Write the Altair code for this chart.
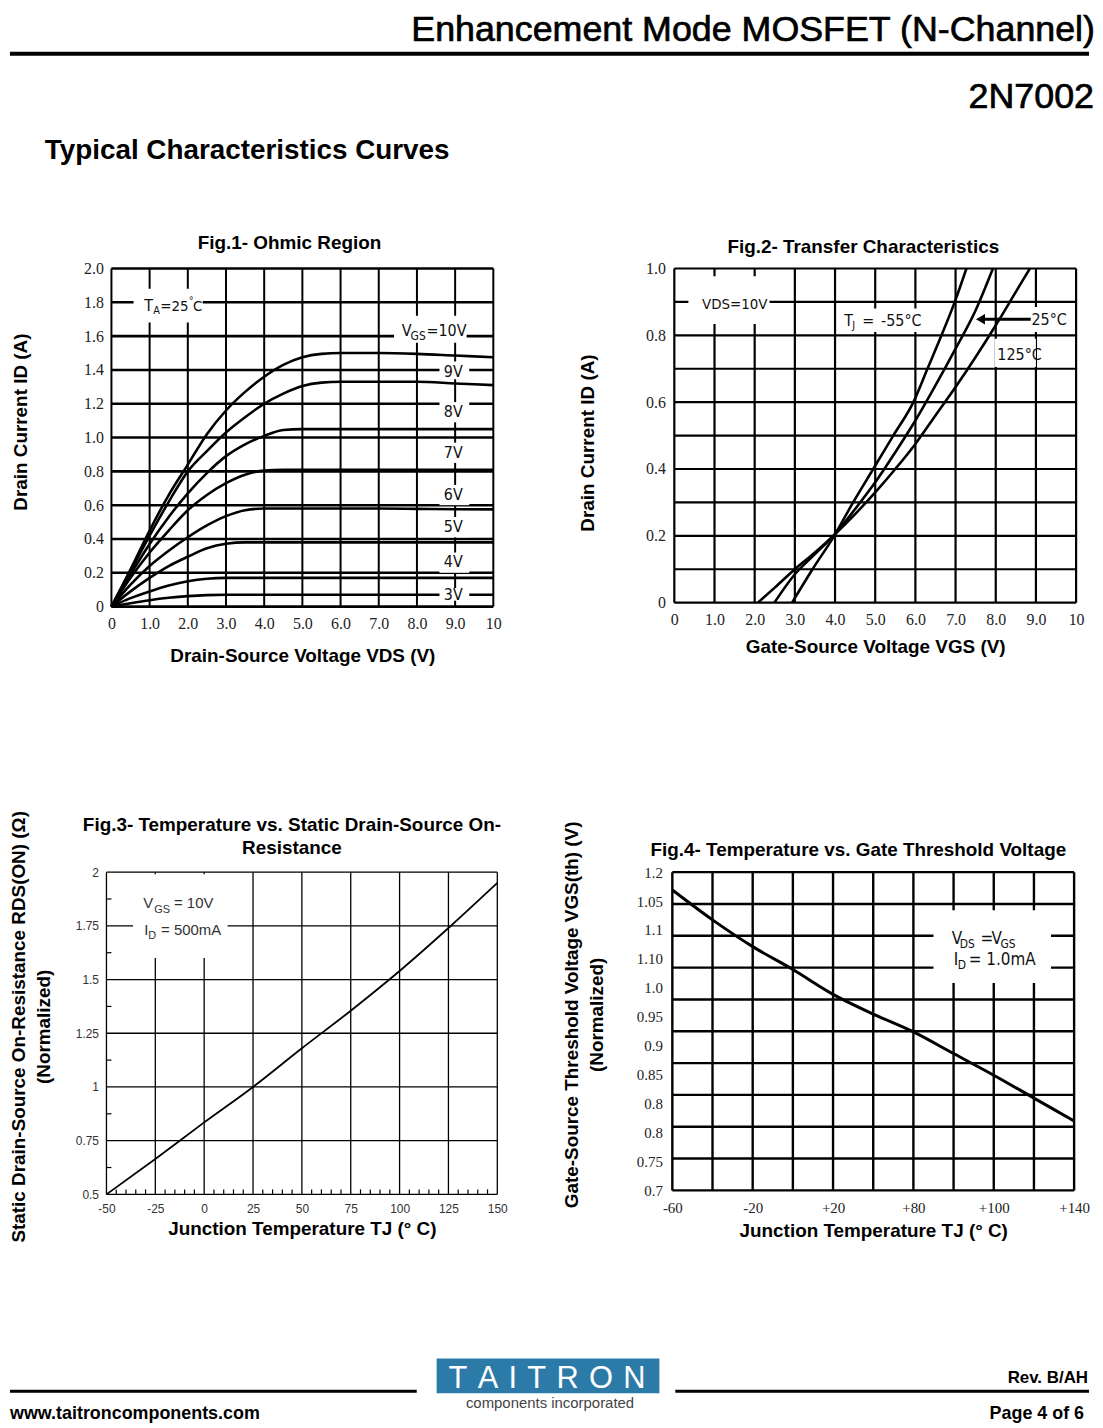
import altair as alt
import pandas as pd

SANS = "Liberation Sans"
NARROW = "DejaVu Sans Condensed, Roboto, Liberation Sans"
SERIF = "Liberation Serif"

# ---------------- page texts ----------------
doc_title = "Enhancement Mode MOSFET (N-Channel)"
part_no = "2N7002"
section_title = "Typical Characteristics Curves"
footer_url = "www.taitroncomponents.com"
footer_rev = "Rev. B/AH"
footer_page = "Page 4 of 6"
logo_name = "T\u2004A\u2004I\u2004T\u2004R\u2004O\u2004N"
logo_sub = "components incorporated"

# ---------------- Fig.1 data ----------------
f1_vds = [0, 0.5, 1, 1.5, 2, 2.5, 3, 3.5, 4, 4.5, 5, 5.5, 6, 7, 8, 9, 10]
f1_gates = ["10V", "9V", "8V", "7V", "6V", "5V", "4V", "3V"]
f1_id_10v = [0, 0.22, 0.45, 0.66, 0.84, 1.02, 1.16, 1.27, 1.36, 1.43, 1.475, 1.495, 1.50, 1.50, 1.495, 1.485, 1.475]
f1_id_9v = [0, 0.21, 0.42, 0.62, 0.80, 0.92, 1.03, 1.12, 1.20, 1.26, 1.305, 1.325, 1.33, 1.33, 1.33, 1.32, 1.31]
f1_id_8v = [0, 0.19, 0.37, 0.53, 0.67, 0.79, 0.89, 0.96, 1.01, 1.045, 1.05, 1.05, 1.05, 1.05, 1.05, 1.05, 1.05]
f1_id_7v = [0, 0.17, 0.32, 0.45, 0.57, 0.66, 0.73, 0.78, 0.805, 0.81, 0.81, 0.81, 0.81, 0.81, 0.81, 0.81, 0.81]
f1_id_6v = [0, 0.13, 0.24, 0.33, 0.41, 0.48, 0.535, 0.57, 0.58, 0.58, 0.58, 0.58, 0.58, 0.58, 0.578, 0.576, 0.575]
f1_id_5v = [0, 0.09, 0.17, 0.24, 0.295, 0.345, 0.372, 0.38, 0.38, 0.38, 0.38, 0.38, 0.38, 0.38, 0.38, 0.38, 0.38]
f1_id_4v = [0, 0.05, 0.09, 0.125, 0.15, 0.165, 0.17, 0.17, 0.17, 0.17, 0.17, 0.17, 0.17, 0.17, 0.17, 0.17, 0.17]
f1_id_3v = [0, 0.02, 0.038, 0.052, 0.062, 0.068, 0.07, 0.07, 0.07, 0.07, 0.07, 0.07, 0.07, 0.07, 0.07, 0.07, 0.07]
f1_curves = [f1_id_10v, f1_id_9v, f1_id_8v, f1_id_7v, f1_id_6v, f1_id_5v, f1_id_4v, f1_id_3v]
f1_xticks = [0, 1, 2, 3, 4, 5, 6, 7, 8, 9, 10]
f1_xlabels = ["0", "1.0", "2.0", "3.0", "4.0", "5.0", "6.0", "7.0", "8.0", "9.0", "10"]
f1_yticks = [0, 0.2, 0.4, 0.6, 0.8, 1.0, 1.2, 1.4, 1.6, 1.8, 2.0]
f1_ylabels = ["0", "0.2", "0.4", "0.6", "0.8", "1.0", "1.2", "1.4", "1.6", "1.8", "2.0"]
f1_label_text = ["9V", "8V", "7V", "6V", "5V", "4V", "3V"]
f1_label_y = [1.39, 1.15, 0.91, 0.66, 0.47, 0.265, 0.07]

# ---------------- Fig.2 data ----------------
f2_vgs_m55 = [2.93, 3.44, 3.98, 4.45, 4.95, 5.45, 5.95, 6.3, 6.65, 6.98, 7.27]
f2_id_m55 = [0, 0.1, 0.2, 0.3, 0.4, 0.5, 0.6, 0.7, 0.8, 0.9, 1.0]
f2_vgs_25 = [2.49, 3.0, 3.5, 4.0, 4.5, 5.0, 5.5, 6.0, 6.5, 7.0, 7.5, 7.93]
f2_id_25 = [0, 0.085, 0.145, 0.205, 0.28, 0.36, 0.45, 0.545, 0.65, 0.76, 0.875, 1.0]
f2_vgs_125 = [2.08, 2.5, 3.0, 3.5, 4.0, 4.5, 5.0, 5.5, 6.0, 6.5, 7.0, 7.5, 8.0, 8.5, 8.85]
f2_id_125 = [0, 0.045, 0.1, 0.15, 0.205, 0.265, 0.33, 0.40, 0.475, 0.56, 0.645, 0.735, 0.83, 0.93, 1.0]
f2_xticks = [0, 1, 2, 3, 4, 5, 6, 7, 8, 9, 10]
f2_xlabels = ["0", "1.0", "2.0", "3.0", "4.0", "5.0", "6.0", "7.0", "8.0", "9.0", "10"]
f2_ygrid = [0, 0.1, 0.2, 0.3, 0.4, 0.5, 0.6, 0.7, 0.8, 0.9, 1.0]
f2_yticks = [0, 0.2, 0.4, 0.6, 0.8, 1.0]
f2_ylabels = ["0", "0.2", "0.4", "0.6", "0.8", "1.0"]

# ---------------- Fig.3 data ----------------
f3_tj = [-50, -25, 0, 25, 50, 75, 100, 125, 150]
f3_rds = [0.5, 0.665, 0.835, 1.0, 1.18, 1.355, 1.54, 1.74, 1.95]
f3_xticks = [-50, -25, 0, 25, 50, 75, 100, 125, 150]
f3_xlabels = ["-50", "-25", "0", "25", "50", "75", "100", "125", "150"]
f3_yticks = [0.5, 0.75, 1.0, 1.25, 1.5, 1.75, 2.0]
f3_ylabels = ["0.5", "0.75", "1", "1.25", "1.5", "1.75", "2"]
f3_yminor = [0.625, 0.875, 1.125, 1.375, 1.625, 1.875]
f3_xminor = [v for v in range(-45, 150, 5) if v % 25 != 0]

# ---------------- Fig.4 data ----------------
f4_tj = [-60, -40, -20, 0, 20, 40, 60, 80, 100, 120, 140]
f4_vth = [1.172, 1.125, 1.083, 1.047, 1.008, 0.977, 0.949, 0.915, 0.881, 0.845, 0.809]
f4_xgrid = [-60, -40, -20, 0, 20, 40, 60, 80, 100, 120, 140]
f4_xticks = [-60, -20, 20, 60, 100, 140]
f4_xlabels = ["-60", "-20", "+20", "+80", "+100", "+140"]
f4_ygrid = [0.7, 0.75, 0.8, 0.85, 0.9, 0.95, 1.0, 1.05, 1.1, 1.15, 1.2]
f4_ylabels = ["0.7", "0.75", "0.8", "0.8", "0.85", "0.9", "0.95", "1.0", "1.10", "1.1", "1.05", "1.2"]
f4_yticks = [round(0.7 + i * 0.5 / 11, 5) for i in range(12)]


def js_list(lst):
    return "[" + ",".join("'" + s + "'" for s in lst) + "]"


class Fig:
    """holds the shared scales/axes of one panel so every layer uses identical definitions"""

    def __init__(self, xdom, ydom, xaxis, yaxis):
        self.xdom, self.ydom, self.xaxis, self.yaxis = xdom, ydom, xaxis, yaxis

    def X(self, field):
        return alt.X(f"{field}:Q", scale=alt.Scale(domain=self.xdom, nice=False, zero=False), axis=self.xaxis)

    def Y(self, field):
        return alt.Y(f"{field}:Q", scale=alt.Scale(domain=self.ydom, nice=False, zero=False), axis=self.yaxis)

    def grid(self, xvals, yvals, wv, wh, color="black"):
        v = alt.Chart(pd.DataFrame({"gx": xvals})).mark_rule(color=color, strokeWidth=wv).encode(x=self.X("gx"))
        h = alt.Chart(pd.DataFrame({"gy": yvals})).mark_rule(color=color, strokeWidth=wh).encode(y=self.Y("gy"))
        return [v, h]

    def boxes(self, rows):
        df = pd.DataFrame(rows, columns=["bx1", "bx2", "by1", "by2"])
        return alt.Chart(df).mark_rect(color="white").encode(
            x=self.X("bx1"), x2="bx2", y=self.Y("by1"), y2="by2")

    def segs(self, ax, ay, parts, font, color):
        df = pd.DataFrame({"tx": [ax], "ty": [ay]})
        out = []
        for t, dx, dy, size in parts:
            out.append(alt.Chart(df).mark_text(
                text=t, dx=dx, dy=dy, fontSize=size, font=font, color=color,
                align="left", baseline="middle").encode(x=self.X("tx"), y=self.Y("ty")))
        return out


def mk_axis(values, expr, title, lfont, lsize, lcolor, lpad, tpad, **kw):
    return alt.Axis(values=values, labelExpr=expr, title=title, grid=False, ticks=False, domain=False,
                    labelFont=lfont, labelFontSize=lsize, labelColor=lcolor, labelPadding=lpad,
                    labelOverlap=False, labelFlush=False, titleFont=SANS, titleFontSize=19,
                    titleFontWeight="bold", titleColor="black", titlePadding=tpad, **kw)


def ttl(text, dx, offset):
    return alt.TitleParams(text=text, font=SANS, fontSize=19, fontWeight="bold", color="black",
                           anchor="middle", dx=dx, offset=offset, lineHeight=24, frame="group")


# ================= Fig.1 =================
W1, H1 = 384, 340
ax1x = mk_axis(f1_xticks, f"{js_list(f1_xlabels)}[round(datum.value)]", "Drain-Source Voltage VDS (V)",
               SERIF, 16, "#222", 9, 15)
ax1y = mk_axis(f1_yticks, f"{js_list(f1_ylabels)}[round(datum.value*5)]", "Drain Current ID (A)",
               SERIF, 16, "#222", 8, 53, titleY=H1 / 2 - 16)
F1 = Fig([0, 10], [0, 2], ax1x, ax1y)
f1_df = pd.DataFrame([{"vds": x, "id": y, "vgs": g}
                      for g, ys in zip(f1_gates, f1_curves) for x, y in zip(f1_vds, ys)])
f1_layers = F1.grid(f1_xticks, f1_yticks, 2, 2.6)
f1_layers.append(alt.Chart(f1_df).mark_line(color="black", strokeWidth=2.6, interpolate="monotone").encode(
    x=F1.X("vds"), y=F1.Y("id"), detail="vgs:N"))
f1_layers.append(F1.boxes([
    (0.58, 2.39, 1.68, 1.88),
    (7.4, 9.3, 1.56, 1.72),
    (8.59, 9.37, 1.345, 1.45),
    (8.59, 9.37, 1.09, 1.21),
    (8.59, 9.37, 0.85, 0.97),
    (8.59, 9.37, 0.60, 0.72),
    (8.59, 9.37, 0.41, 0.53),
    (8.59, 9.37, 0.20, 0.32),
    (8.59, 9.37, 0.035, 0.11),
]))
f1_layers.append(alt.Chart(pd.DataFrame({"lx": [8.95] * len(f1_label_text), "ly": f1_label_y,
                                         "lt": f1_label_text})).mark_text(
    font=NARROW, fontSize=16, color="#111", align="center", baseline="middle").encode(
    x=F1.X("lx"), y=F1.Y("ly"), text="lt:N"))
f1_layers += F1.segs(0.86, 1.78, [("T", 0, 0, 16), ("A", 9, 5, 11), ("=25", 16, 0, 15), ("°", 45, -5, 10),
                                  ("C", 49, 0, 15)], NARROW, "#111")
f1_layers += F1.segs(7.6, 1.63, [("V", 0, 0, 16), ("GS", 9, 5, 12), ("=10V", 25, 0, 16)], NARROW, "#111")
fig1 = alt.layer(*f1_layers).properties(width=W1, height=H1, title=ttl("Fig.1- Ohmic Region", -13, 8))

# ================= Fig.2 =================
W2, H2 = 404, 336
ax2x = mk_axis(f2_xticks, f"{js_list(f2_xlabels)}[round(datum.value)]", "Gate-Source Voltage VGS (V)",
               SERIF, 16, "#222", 9, 10)
ax2y = mk_axis(f2_yticks, f"{js_list(f2_ylabels)}[round(datum.value*5)]", "Drain Current ID (A)",
               SERIF, 16, "#222", 9, 48, titleY=H2 / 2 + 7)
F2 = Fig([0, 10], [0, 1], ax2x, ax2y)
f2_df = pd.concat([
    pd.DataFrame({"vgs": f2_vgs_m55, "id": f2_id_m55, "tj": "-55"}),
    pd.DataFrame({"vgs": f2_vgs_25, "id": f2_id_25, "tj": "25"}),
    pd.DataFrame({"vgs": f2_vgs_125, "id": f2_id_125, "tj": "125"}),
])
f2_layers = F2.grid(f2_xticks, f2_ygrid, 2.2, 2.2)
f2_layers.append(F2.boxes([
    (0.35, 2.37, 0.834, 0.977),
    (4.15, 6.15, 0.81, 0.88),
    (8.8, 9.75, 0.81, 0.885),
    (7.97, 9.0, 0.705, 0.79),
]))
arrow_df = pd.DataFrame({"ax1": [7.62], "ax2": [8.87], "ay": [0.848]})
f2_layers.append(alt.Chart(arrow_df).mark_rule(color="black", strokeWidth=3).encode(
    x=F2.X("ax1"), x2="ax2", y=F2.Y("ay")))
f2_layers.append(alt.Chart(arrow_df).mark_point(shape="triangle-left", filled=True, color="black",
                                                size=110, opacity=1).encode(x=F2.X("ax1"), y=F2.Y("ay")))
f2_layers.append(alt.Chart(f2_df).mark_line(color="black", strokeWidth=2.6, interpolate="monotone").encode(
    x=F2.X("vgs"), y=F2.Y("id"), detail="tj:N"))
f2_layers += F2.segs(0.69, 0.893, [("VDS=10V", 0, 0, 15)], NARROW, "#111")
f2_layers += F2.segs(4.23, 0.842, [("T", 0, 0, 16), ("J", 8, 5, 11), ("=", 18, 0, 16), ("-55°C", 37, 0, 16)],
                     NARROW, "#111")
f2_layers += F2.segs(8.89, 0.845, [("25°C", 0, 0, 16)], NARROW, "#111")
f2_layers += F2.segs(8.04, 0.741, [("125°C", 0, 0, 16)], NARROW, "#111")
fig2 = alt.layer(*f2_layers).properties(width=W2, height=H2,
                                        title=ttl("Fig.2- Transfer Characteristics", -12, 4))

# ================= Fig.3 =================
W3, H3 = 393, 324
ax3x = mk_axis(f3_xticks, f"{js_list(f3_xlabels)}[round((datum.value+50)/25)]",
               "Junction Temperature TJ (° C)", SANS, 12, "#333", 9, 5)
ax3y = mk_axis(f3_yticks, f"{js_list(f3_ylabels)}[round((datum.value-0.5)*4)]",
               ["Static Drain-Source On-Resistance RDS(ON)  (Ω)", "(Normalized)"], SANS, 12, "#333", 8, 22,
               titleY=H3 / 2 - 7, titleLineHeight=25)
F3 = Fig([-50, 150], [0.5, 2.0], ax3x, ax3y)
f3_layers = F3.grid(f3_xticks, f3_yticks, 1.3, 1.3)
f3_layers.append(alt.Chart(pd.DataFrame({"my": f3_yminor})).mark_rule(color="black", strokeWidth=1.2).encode(
    y=F3.Y("my"), x=alt.value(0), x2=alt.value(5)))
f3_layers.append(alt.Chart(pd.DataFrame({"mx": f3_xminor})).mark_rule(color="black", strokeWidth=1.2).encode(
    x=F3.X("mx"), y=alt.value(H3), y2=alt.value(H3 - 5)))
f3_layers.append(F3.boxes([(-36.4, 12, 1.6, 1.99)]))
f3_layers.append(alt.Chart(pd.DataFrame({"tj": f3_tj, "r": f3_rds})).mark_line(
    color="black", strokeWidth=1.8, interpolate="monotone").encode(x=F3.X("tj"), y=F3.Y("r")))
f3_layers += F3.segs(-31.2, 1.856, [("V", 0, 0, 15), ("GS", 11, 7, 11), ("= 10V", 31, 0, 15)], SANS, "#333")
f3_layers += F3.segs(-31.2, 1.731, [("I", 1, 0, 15), ("D", 5, 6, 11), ("= 500mA", 18, 0, 15)], SANS, "#333")
# the title sits above the tall y-axis title, so a negative offset brings it down next to the plot
fig3 = alt.layer(*f3_layers).properties(
    width=W3, height=H3,
    title=ttl(["Fig.3- Temperature vs. Static Drain-Source On-", "Resistance"], -10, -51))

# ================= Fig.4 =================
W4, H4 = 404, 320
ax4x = mk_axis(f4_xticks, f"{js_list(f4_xlabels)}[round((datum.value+60)/40)]",
               "Junction Temperature TJ (° C)", SERIF, 15, "#222", 10, 6)
ax4y = mk_axis(f4_yticks, f"{js_list(f4_ylabels)}[round((datum.value-0.7)*22)]",
               ["Gate-Source Threshold Voltage VGS(th) (V)", "(Normalized)"], SERIF, 15, "#222", 10, 30,
               titleY=H4 / 2 - 17, titleLineHeight=25)
F4 = Fig([-60, 140], [0.7, 1.2], ax4x, ax4y)
f4_layers = F4.grid(f4_xgrid, f4_ygrid, 2.4, 2.4)
f4_layers.append(F4.boxes([(70, 128.5, 1.026, 1.14)]))
f4_layers.append(alt.Chart(pd.DataFrame({"tj": f4_tj, "v": f4_vth})).mark_line(
    color="black", strokeWidth=3, interpolate="monotone").encode(x=F4.X("tj"), y=F4.Y("v")))
f4_layers += F4.segs(79.1, 1.095, [("V", 0, 0, 17), ("DS", 8, 5, 12), ("=", 29, 0, 17), ("V", 40, 0, 17),
                                   ("GS", 49, 5, 12)], NARROW, "#111")
f4_layers += F4.segs(79.1, 1.0625, [("I", 2, 0, 17), ("D", 6, 5, 12), ("= 1.0mA", 17, 0, 17)], NARROW, "#111")
fig4 = alt.layer(*f4_layers).properties(
    width=W4, height=H4, title=ttl("Fig.4- Temperature vs. Gate Threshold Voltage", -15, -39))

# ================= header / footer =================
one = pd.DataFrame({"a": [0]})


def txt(text, x, y, size, align="left", weight="normal", font=SANS, color="black", stroke=None):
    kw = dict(text=text, fontSize=size, align=align, fontWeight=weight, font=font, color=color,
              baseline="alphabetic")
    if stroke:
        kw.update(stroke=color, strokeWidth=stroke)
    return alt.Chart(one).mark_text(**kw).encode(x=alt.value(x), y=alt.value(y))


def hrule(x1, x2, y, w):
    return alt.Chart(one).mark_rule(color="black", strokeWidth=w).encode(
        x=alt.value(x1), x2=alt.value(x2), y=alt.value(y))


header = alt.layer(
    txt(doc_title, 1091, 29, 36, "right", stroke=0.7),
    hrule(0, 1085, 42, 4),
    txt(part_no, 1090, 97, 36, "right", stroke=0.7),
    txt(section_title, 35, 148, 28, "left", "bold"),
).properties(width=1087, height=258)

footer = alt.layer(
    hrule(0, 409, 198, 3),
    hrule(669, 1085, 198, 3),
    alt.Chart(one).mark_rect(color="#2c7aa8").encode(x=alt.value(429), x2=alt.value(653),
                                                     y=alt.value(165), y2=alt.value(200)),
    txt(logo_name, 540, 195, 31, "center", color="white"),
    txt(logo_sub, 543, 215, 15, "center", color="#444"),
    txt(footer_rev, 1084, 190, 17, "right", "bold", SANS),
    txt(footer_url, 0, 226, 18, "left", "bold", SANS),
    txt(footer_page, 1080, 226, 18, "right", "bold", SANS),
).properties(width=1087, height=231)


def spacer(w, h):
    return alt.Chart(one).mark_point(opacity=0, size=0.01).encode(
        x=alt.value(0.5), y=alt.value(0.5)).properties(width=w, height=h)


row1 = alt.hconcat(spacer(102, 1), fig1, spacer(182, 1), fig2, spacing=0, bounds="flush")
row2 = alt.hconcat(spacer(97, 1), fig3, spacer(176, 1), fig4, spacing=0, bounds="flush")

# nested rows count as zero height in a flush layout, so spacers carry the row heights
chart = alt.vconcat(header, row1, spacer(1, 607), row2, spacer(1, 324), footer,
                    spacing=0, bounds="flush").properties(
    padding=0, background="white").configure_view(stroke=None)

chart.save("out.html", embed_options={"renderer": "svg", "actions": False})
